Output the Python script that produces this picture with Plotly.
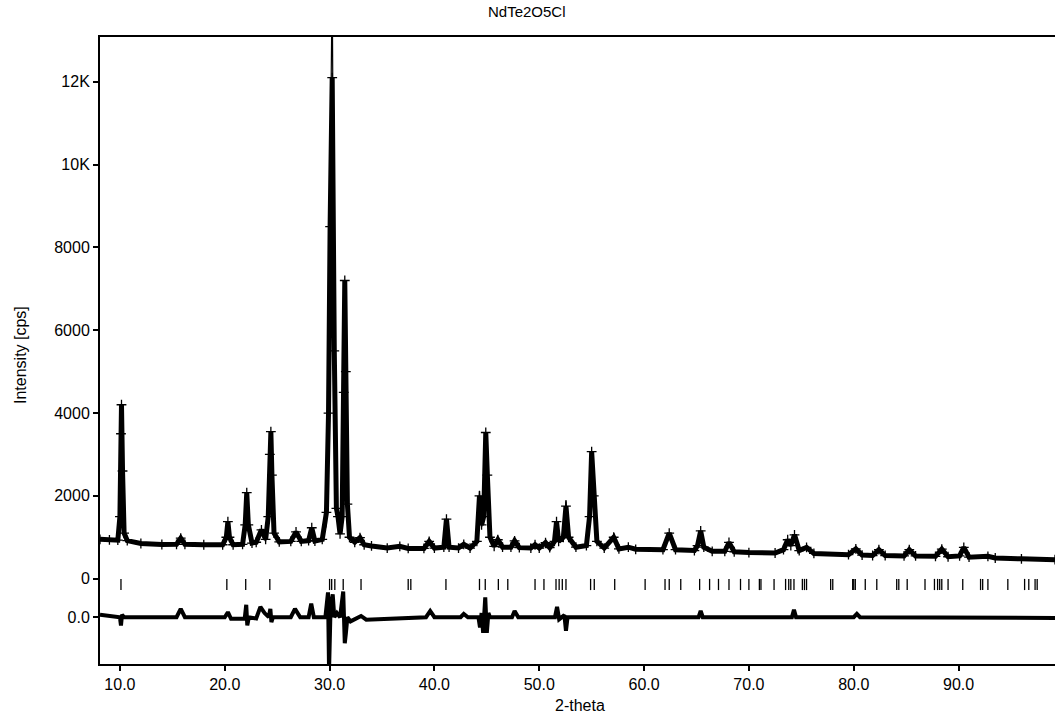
import plotly.graph_objects as go

# ---------------- data ----------------
two_theta = [8.1, 9.0, 9.8, 10.0, 10.1, 10.15, 10.25, 10.4, 10.7, 12.0, 14.0, 15.4, 15.8, 16.2,
             18.0, 19.8, 20.15, 20.3, 20.45, 20.8, 21.7, 21.95, 22.1, 22.25, 22.6, 23.0, 23.5,
             23.9, 24.15, 24.3, 24.4, 24.5, 24.7, 25.2, 26.3, 26.8, 27.3, 28.0, 28.3, 28.6,
             29.3, 29.7, 29.9, 30.05, 30.25, 30.45, 30.65, 30.8, 31.0, 31.2, 31.35, 31.45,
             31.55, 31.7, 31.9, 32.4, 32.9, 33.3, 34.0, 35.5, 36.7, 37.5, 39.0, 39.5, 40.0,
             40.9, 41.15, 41.4, 42.3, 42.8, 43.4, 44.05, 44.3, 44.5, 44.7, 44.9, 45.05, 45.3,
             45.7, 46.05, 46.5, 47.3, 47.65, 48.1, 49.2, 49.6, 50.0, 50.6, 51.0, 51.45, 51.65,
             51.85, 52.3, 52.55, 52.8, 53.5, 54.5, 54.8, 55.0, 55.2, 55.5, 56.2, 57.1, 57.6,
             58.5, 59.2, 61.8, 62.4, 63.0, 64.8, 65.1, 65.4, 65.7, 66.5, 67.7, 68.1, 68.6,
             70.0, 72.5, 73.3, 73.7, 74.0, 74.35, 74.8, 75.5, 76.2, 79.5, 80.2, 80.8, 81.8,
             82.4, 83.0, 84.8, 85.3, 85.9, 87.8, 88.4, 89.0, 90.1, 90.5, 91.0, 92.8, 93.5,
             96.0, 99.2]
observed = [950, 935, 930, 1500, 3500, 4200, 2600, 1100, 920, 850, 825, 830, 980, 830,
            820, 820, 1000, 1380, 1000, 820, 830, 1300, 2080, 1300, 860, 880, 1180,
            950, 1500, 3000, 3550, 2500, 1100, 890, 900, 1130, 900, 920, 1230, 910,
            950, 1600, 4000, 8500, 12100, 5500, 1700, 1500, 1080, 1500, 4500, 7200,
            5000, 1800, 1000, 880, 990, 820, 790, 740, 780, 730, 730, 900, 740,
            760, 1440, 760, 740, 830, 740, 900, 2000, 1300, 1500, 3530, 2500, 1000,
            780, 940, 760, 760, 915, 750, 740, 820, 740, 870, 750, 900, 1380,
            900, 1000, 1750, 1000, 760, 800, 1500, 3070, 2000, 900, 740, 1000, 720,
            760, 710, 700, 1100, 700, 680, 800, 1155, 760, 660, 660, 875, 650,
            630, 620, 700, 940, 800, 1060, 680, 755, 610, 580, 720, 570, 560,
            700, 560, 550, 700, 550, 540, 715, 530, 550, 755, 520, 540, 500,
            480, 460]
calculated = [950, 935, 930, 1400, 3900, 4150, 2500, 1100, 920, 850, 825, 830, 940, 830,
              820, 820, 980, 1330, 980, 820, 830, 1250, 2000, 1250, 860, 880, 1080,
              900, 1450, 3000, 3500, 2450, 1100, 890, 900, 1030, 900, 920, 1080, 910,
              950, 1300, 3500, 9500, 14500, 5200, 1650, 1450, 1080, 1400, 4300, 6800,
              4900, 1750, 1000, 880, 940, 820, 790, 740, 770, 730, 730, 860, 740,
              760, 1400, 760, 740, 800, 740, 880, 2120, 1250, 1450, 3400, 2450, 1000,
              780, 900, 760, 760, 870, 750, 740, 800, 740, 850, 750, 880, 1300,
              900, 1000, 1900, 1000, 760, 800, 1450, 3000, 1950, 900, 740, 960, 720,
              750, 710, 700, 1060, 700, 680, 790, 1080, 760, 660, 660, 850, 650,
              630, 620, 690, 900, 790, 980, 680, 740, 610, 580, 700, 570, 560,
              680, 560, 550, 680, 550, 540, 690, 530, 550, 740, 520, 540, 500,
              480, 460]

diff_theta = [8.1, 9.5, 10.0, 10.1, 10.2, 10.4, 15.4, 15.8, 16.2, 20.0, 20.3, 20.6, 21.9, 22.05,
              22.15, 22.3, 23.0, 23.4, 23.8, 24.2, 24.35, 24.45, 24.6, 26.3, 26.7, 27.2, 28.0,
              28.25, 28.5, 29.6, 29.85, 29.95, 30.1, 30.3, 30.45, 30.7, 31.0, 31.3, 31.45, 31.55,
              31.7, 32.0, 33.0, 33.5, 39.2, 39.6, 40.0, 42.5, 42.8, 43.2, 44.2, 44.35, 44.5,
              44.65, 44.85, 45.0, 45.15, 45.3, 47.4, 47.65, 48.0, 51.5, 51.7, 51.9, 52.4, 52.55,
              52.7, 65.2, 65.4, 65.6, 74.1, 74.3, 74.5, 80.0, 80.3, 80.6, 99.2]
difference = [60, 0, 0, -200, 60, 0, 0, 200, 0, 0, 120, -40, -40, 300,
              -200, 0, -30, 250, 100, 0, 200, -120, 0, 0, 200, 0, 0,
              330, 0, 0, 600, -1300, 300, 550, 0, 100, 0, 620, -630, -400,
              0, -100, 30, -60, 0, 150, 0, 0, 80, 0, 0, -250, 100,
              -380, 480, -380, 100, 0, 0, 150, 0, 0, 250, -50, 50, -330,
              0, 0, 150, 0, 0, 180, 0, 0, 80, 0, -20]

reflections = [10.1, 20.2, 22.0, 24.3, 30.0, 30.2, 30.5, 31.3, 33.0, 37.5, 37.75, 41.1, 44.3,
               44.85, 46.1, 47.0, 49.6, 50.45, 51.6, 51.9, 52.2, 52.55, 54.9, 55.25, 57.2,
               60.1, 62.0, 62.4, 63.5, 65.3, 66.25, 67.1, 68.1, 69.2, 70.0, 71.0, 71.15,
               72.4, 73.5, 73.8, 74.0, 74.3, 75.1, 75.3, 75.5, 77.8, 78.0, 79.9, 80.0,
               80.15, 81.1, 82.2, 84.1, 84.3, 85.1, 86.8, 87.7, 88.0, 88.2, 88.4, 89.0,
               90.4, 92.1, 92.3, 92.8, 94.7, 96.3, 96.7, 97.3, 97.5]

y_tick_vals = [0, 2000, 4000, 6000, 8000, 10000, 12000]
y_tick_text = ["0", "2000", "4000", "6000", "8000", "10K", "12K"]
x_tick_vals = [10, 20, 30, 40, 50, 60, 70, 80, 90]
x_tick_text = ["10.0", "20.0", "30.0", "40.0", "50.0", "60.0", "70.0", "80.0", "90.0"]

DIFF_OFFSET = -930
TICK_LEVEL = -140

# ---------------- figure ----------------
FONT = "Liberation Sans, Arial, Helvetica, sans-serif"
fig = go.Figure()

# observed band
fig.add_trace(go.Scatter(x=two_theta, y=observed, mode="lines+markers",
                         line=dict(color="black", width=5),
                         marker=dict(symbol="cross-thin", size=7,
                                     line=dict(color="black", width=1.3)),
                         showlegend=False, hoverinfo="skip"))
# calculated
fig.add_trace(go.Scatter(x=two_theta, y=calculated, mode="lines",
                         line=dict(color="black", width=1.2),
                         showlegend=False, hoverinfo="skip"))
# reflection markers
fig.add_trace(go.Scatter(x=reflections, y=[TICK_LEVEL] * len(reflections), mode="markers",
                         marker=dict(symbol="line-ns", size=8,
                                     line=dict(color="black", width=1.3)),
                         showlegend=False, hoverinfo="skip"))
# difference curve
fig.add_trace(go.Scatter(x=diff_theta, y=[d + DIFF_OFFSET for d in difference], mode="lines",
                         line=dict(color="black", width=4),
                         showlegend=False, hoverinfo="skip"))

fig.update_layout(
    width=1055, height=722,
    margin=dict(l=100, r=0, t=37, b=58),
    paper_bgcolor="white", plot_bgcolor="white",
    font=dict(family=FONT, size=16, color="black"),
    xaxis=dict(range=[8.1, 99.2], showgrid=False, zeroline=False,
               tickvals=x_tick_vals, ticktext=x_tick_text,
               ticks="outside", ticklen=5, tickwidth=1.5, tickcolor="black",
               showline=True, linecolor="black", linewidth=2, mirror=True,
               tickfont=dict(size=16)),
    yaxis=dict(range=[-2060, 13080], showgrid=False, zeroline=False,
               tickvals=y_tick_vals + [DIFF_OFFSET], ticktext=y_tick_text + ["0.0"],
               ticks="outside", ticklen=5, tickwidth=1.5, tickcolor="black",
               showline=True, linecolor="black", linewidth=2,
               tickfont=dict(size=16)),
    annotations=[
        dict(text="NdTe2O5Cl", xref="paper", yref="paper", x=(527 - 100) / 955,
             y=(664 - 12) / 627, xanchor="center", yanchor="middle",
             showarrow=False, font=dict(size=15)),
        dict(text="2-theta", xref="paper", yref="paper", x=(580 - 100) / 955,
             y=(664 - 706) / 627, xanchor="center", yanchor="middle",
             showarrow=False, font=dict(size=16)),
        dict(text="Intensity [cps]", xref="paper", yref="paper", x=(20 - 100) / 955,
             y=(664 - 355) / 627, xanchor="center", yanchor="middle", textangle=-90,
             showarrow=False, font=dict(size=16)),
    ],
)

fig.write_html("out.html",
               config={"displayModeBar": False},
               post_script="document.body.style.margin='0';"
                           "document.body.style.overflow='hidden';")
